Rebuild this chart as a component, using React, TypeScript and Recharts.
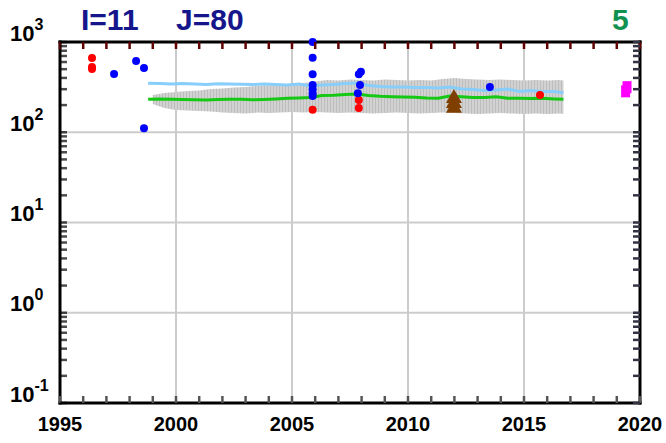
import { ComposedChart, XAxis, YAxis, CartesianGrid, Area, Line, Scatter } from 'recharts';

const FONT = '"Liberation Sans", Arial, Helvetica, sans-serif';

const YEAR_TICKS = [
  1995, 1996, 1997, 1998, 1999, 2000, 2001, 2002, 2003, 2004, 2005, 2006, 2007,
  2008, 2009, 2010, 2011, 2012, 2013, 2014, 2015, 2016, 2017, 2018, 2019, 2020,
];
const YEAR_LABELS = [1995, 2000, 2005, 2010, 2015, 2020];
const GRID_YEARS = [2000, 2005, 2010, 2015];
const LOG_TICKS = [
  0.1, 0.2, 0.3, 0.4, 0.5, 0.6, 0.7, 0.8, 0.9, 1, 2, 3, 4, 5, 6, 7, 8, 9, 10, 20, 30, 40, 50, 60,
  70, 80, 90, 100, 200, 300, 400, 500, 600, 700, 800, 900, 1000,
];
const DECADES = [0.1, 1, 10, 100, 1000];
const EXPONENTS = ['-1', '0', '1', '2', '3'];
const GRID_LEVELS = [1, 10, 100];

// running lines
const LINE_YEARS = [
  1998.8, 1999.3, 1999.8, 2000.3, 2000.8, 2001.3, 2001.8, 2002.3, 2002.8, 2003.3, 2003.8, 2004.3,
  2004.8, 2005.3, 2005.8, 2006.3, 2006.8, 2007.3, 2007.8, 2008.3, 2008.8, 2009.3, 2009.8, 2010.3,
  2010.8, 2011.3, 2011.8, 2012.3, 2012.8, 2013.3, 2013.8, 2014.3, 2014.8, 2015.3, 2015.8, 2016.3,
  2016.7,
];
const LIGHT_BLUE = [
  349, 347, 342, 347, 342, 338, 344, 342, 340, 338, 342, 338, 334, 342, 326, 334, 338, 347, 351,
  330, 321, 317, 317, 313, 313, 309, 317, 301, 298, 290, 294, 301, 283, 290, 283, 283, 274,
];
const GREEN = [
  232, 234, 232, 231, 229, 228, 231, 232, 232, 229, 231, 234, 238, 240, 243, 255, 257, 262, 265,
  255, 250, 248, 246, 244, 240, 238, 252, 247, 243, 242, 247, 238, 238, 237, 238, 234, 232,
];

// grey spread band
const BAND_YEARS = [
  1999.0, 1999.5, 2000.0, 2000.5, 2001.0, 2001.5, 2002.0, 2002.5, 2003.0, 2003.5, 2004.0, 2004.5,
  2005.0, 2005.5, 2006.0, 2006.5, 2007.0, 2007.5, 2008.0, 2008.5, 2009.0, 2009.5, 2010.0, 2010.5,
  2011.0, 2011.5, 2012.0, 2012.5, 2013.0, 2013.5, 2014.0, 2014.5, 2015.0, 2015.5, 2016.0, 2016.5,
  2016.7,
];
const BAND_LOW = [
  206, 186, 176, 174, 172, 170, 165, 163, 161, 165, 163, 165, 168, 165, 168, 165, 163, 165, 163,
  161, 163, 165, 163, 161, 163, 165, 163, 161, 159, 161, 163, 161, 159, 161, 159, 161, 159,
];
const BAND_HIGH = [
  259, 272, 279, 287, 290, 301, 305, 313, 317, 326, 330, 338, 343, 351, 365, 379, 375, 384, 379,
  375, 384, 379, 375, 379, 375, 389, 399, 389, 384, 379, 384, 379, 375, 379, 375, 379, 375,
];

// single measurements
const RED_X = [1996.38, 1996.38, 1996.38, 2005.89, 2007.88, 2007.88, 2015.69];
const RED_Y = [665, 529, 502, 177, 228, 186, 259];
const BLUE_X = [
  1997.33, 1998.28, 1998.62, 1998.62, 2005.89, 2005.89, 2005.89, 2005.89, 2005.89, 2005.89,
  2005.89, 2007.97, 2007.88, 2007.93, 2007.84, 2013.53,
];
const BLUE_Y = [441, 615, 515, 111, 1000, 670, 439, 334, 299, 270, 252, 469, 439, 334, 270, 317];
const BROWN_X = [2011.98, 2011.98, 2011.98];
const BROWN_Y = [252, 222, 196];
const MAGENTA_X = [2019.44, 2019.38];
const MAGENTA_Y = [316, 284];

const toPoints = (xs: number[], ys: number[]) => xs.map((x, i) => ({ x, y: ys[i] }));
const lightData = toPoints(LINE_YEARS, LIGHT_BLUE);
const greenData = toPoints(LINE_YEARS, GREEN);
const bandData = BAND_YEARS.map((x, i) => ({ x, range: [BAND_LOW[i], BAND_HIGH[i]] }));
const redData = toPoints(RED_X, RED_Y);
const blueData = toPoints(BLUE_X, BLUE_Y);
const brownData = toPoints(BROWN_X, BROWN_Y);
const magentaData = toPoints(MAGENTA_X, MAGENTA_Y);

const TICK_LEN = 7;
const TICK_W = 2.5;

// inward tick marks (axes use tickSize 0, so x/y sit on the axis line)
const BottomTick = (props: any) => {
  const x = Number(props.x);
  const y = Number(props.y);
  const v = props.payload.value;
  return (
    <g>
      <path d={`M${x},${y}V${y - TICK_LEN}`} stroke="#555555" strokeWidth={TICK_W} fill="none" />
      {YEAR_LABELS.includes(v) && (
        <text x={x} y={y + 28} textAnchor="middle" fontFamily={FONT} fontWeight="bold" fontSize={20} fill="#000">
          {v}
        </text>
      )}
    </g>
  );
};

const TopTick = (props: any) => {
  const x = Number(props.x);
  const y = Number(props.y);
  return <path d={`M${x},${y}V${y + TICK_LEN}`} stroke="#600000" strokeWidth={TICK_W} fill="none" />;
};

const LeftTick = (props: any) => {
  const x = Number(props.x);
  const y = Number(props.y);
  const idx = DECADES.indexOf(props.payload.value);
  return (
    <g>
      <path d={`M${x},${y}H${x + TICK_LEN}`} stroke="#000000" strokeOpacity={0.7} strokeWidth={TICK_W} fill="none" />
      {idx >= 0 && (
        <text x={x - 50} y={y - 1.5} fontFamily={FONT} fontWeight="bold" fontSize={22} fill="#000">
          10
          <tspan dy={-11} fontSize={16}>
            {EXPONENTS[idx]}
          </tspan>
        </text>
      )}
    </g>
  );
};

const RightTick = (props: any) => {
  const x = Number(props.x);
  const y = Number(props.y);
  return <path d={`M${x},${y}H${x - TICK_LEN}`} stroke="#333344" strokeWidth={TICK_W} fill="none" />;
};

const dot = (color: string) => (p: any) => <circle cx={p.cx} cy={p.cy} r={4} fill={color} />;

const triangle = (p: any) => (
  <path d={`M${p.cx},${p.cy - 7}L${p.cx + 8},${p.cy + 7}L${p.cx - 8},${p.cy + 7}Z`} fill="#7f3f00" />
);

const square = (p: any) => <path d={`M${p.cx - 4.5},${p.cy - 6}h9v12h-9Z`} fill="#ff00ff" />;

const axisLine = { stroke: '#000', strokeWidth: 3, strokeLinecap: 'square' as const };

export default function App() {
  return (
    <div style={{ position: 'absolute', left: 0, top: 0, width: 666, height: 443, background: '#fff' }}>
      <ComposedChart width={666} height={443} margin={{ top: 0, right: 0, bottom: 0, left: 0 }}>
        <defs>
          <pattern id="bandHatch" width="3" height="6" patternUnits="userSpaceOnUse">
            <rect width="3" height="6" fill="#d2d2d2" />
            <rect width="1" height="6" fill="#bdbdbd" />
          </pattern>
        </defs>
        <CartesianGrid
          xAxisId="b"
          yAxisId="l"
          verticalValues={GRID_YEARS}
          horizontalValues={GRID_LEVELS}
          stroke="#cccccc"
          strokeWidth={2}
        />
        <XAxis
          xAxisId="b"
          dataKey="x"
          type="number"
          domain={[1995, 2020]}
          ticks={YEAR_TICKS}
          interval={0}
          height={40}
          tickSize={0}
          tickMargin={0}
          tickLine={false}
          axisLine={axisLine}
          tick={BottomTick}
        />
        <XAxis
          xAxisId="t"
          dataKey="x"
          orientation="top"
          type="number"
          domain={[1995, 2020]}
          ticks={YEAR_TICKS}
          interval={0}
          height={42}
          tickSize={0}
          tickMargin={0}
          tickLine={false}
          axisLine={axisLine}
          tick={TopTick}
        />
        <YAxis
          yAxisId="l"
          dataKey="y"
          type="number"
          scale="log"
          domain={[0.1, 1000]}
          ticks={LOG_TICKS}
          interval={0}
          width={60}
          tickSize={0}
          tickMargin={0}
          tickLine={false}
          axisLine={axisLine}
          tick={LeftTick}
        />
        <YAxis
          yAxisId="r"
          dataKey="y"
          orientation="right"
          type="number"
          scale="log"
          domain={[0.1, 1000]}
          ticks={LOG_TICKS}
          interval={0}
          width={26}
          tickSize={0}
          tickMargin={0}
          tickLine={false}
          axisLine={axisLine}
          tick={RightTick}
        />
        <Area
          xAxisId="b"
          yAxisId="l"
          data={bandData}
          dataKey="range"
          type="linear"
          stroke="none"
          fill="url(#bandHatch)"
          fillOpacity={1}
          isAnimationActive={false}
        />
        {/* the top and right frame axes need a series bound to them to get their ticks */}
        <Line
          xAxisId="t"
          yAxisId="r"
          data={greenData}
          dataKey="y"
          stroke="none"
          dot={false}
          legendType="none"
          isAnimationActive={false}
        />
        <Line
          xAxisId="b"
          yAxisId="l"
          data={lightData}
          dataKey="y"
          type="linear"
          stroke="#87cefa"
          strokeWidth={3}
          dot={false}
          isAnimationActive={false}
        />
        <Line
          xAxisId="b"
          yAxisId="l"
          data={greenData}
          dataKey="y"
          type="linear"
          stroke="#14c814"
          strokeWidth={3}
          dot={false}
          isAnimationActive={false}
        />
        <Scatter xAxisId="b" yAxisId="l" data={redData} dataKey="y" shape={dot('#ff0000')} isAnimationActive={false} />
        <Scatter xAxisId="b" yAxisId="l" data={blueData} dataKey="y" shape={dot('#0000ff')} isAnimationActive={false} />
        <Scatter xAxisId="b" yAxisId="l" data={brownData} dataKey="y" shape={triangle} isAnimationActive={false} />
        <Scatter xAxisId="b" yAxisId="l" data={magentaData} dataKey="y" shape={square} isAnimationActive={false} />
      </ComposedChart>
      <svg width={666} height={443} style={{ position: 'absolute', left: 0, top: 0, pointerEvents: 'none' }}>
        <text x={81} y={30} fontFamily={FONT} fontWeight="bold" fontSize={30} fill="#16168c">
          I=11
        </text>
        <text x={176} y={30} fontFamily={FONT} fontWeight="bold" fontSize={30} fill="#16168c">
          J=80
        </text>
        <text x={612} y={30} fontFamily={FONT} fontWeight="bold" fontSize={30} fill="#0f9150">
          5
        </text>
      </svg>
    </div>
  );
}
